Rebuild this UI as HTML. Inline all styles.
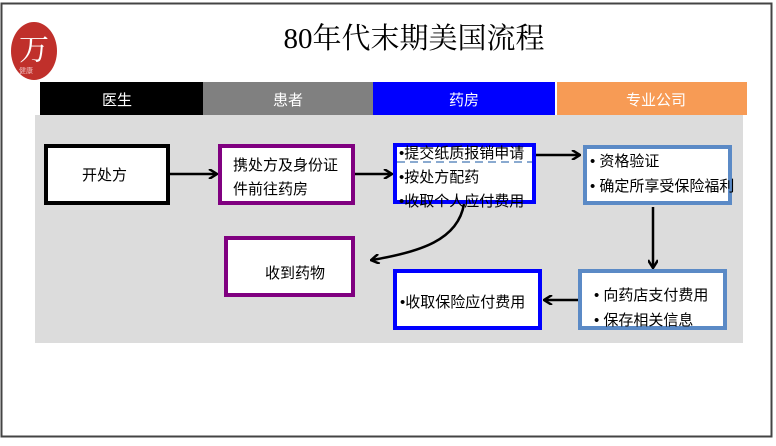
<!DOCTYPE html>
<html><head><meta charset="utf-8"><style>
html,body{margin:0;padding:0;background:#fff;}
body{width:776px;height:441px;overflow:hidden;}
svg text{font-family:"Liberation Sans","Noto Sans CJK SC",sans-serif;}
</style></head><body>
<svg width="776" height="441" viewBox="0 0 776 441" xmlns="http://www.w3.org/2000/svg">
<defs>
<marker id="a" markerWidth="10" markerHeight="10" refX="8" refY="5" orient="auto" markerUnits="userSpaceOnUse"><path d="M1,0 L9,5 L1,10" fill="none" stroke="#000" stroke-width="2.5"/></marker>
</defs>
<rect x="1.5" y="3.5" width="770" height="433" fill="#fff" stroke="#444" stroke-width="2"/>
<ellipse cx="34" cy="51" rx="23" ry="29" fill="#c0302b"/>
<text x="34" y="60" font-size="30" fill="#fff" text-anchor="middle" style="font-family:'Noto Serif CJK SC',serif">万</text>
<text x="19" y="73" font-size="7" fill="#f0c0c0">健康</text>
<text x="414" y="48" font-size="29" text-anchor="middle" style="font-family:'Liberation Serif','Noto Serif CJK SC',serif">80年代末期美国流程</text>
<rect x="35" y="115" width="708" height="228" fill="#dcdcdc"/>
<rect x="40" y="82" width="163" height="33" fill="#000"/>
<rect x="203" y="82" width="170" height="33" fill="#808080"/>
<rect x="373" y="82" width="182" height="33" fill="#0000ff"/>
<rect x="557" y="82" width="190" height="33" fill="#f79b55"/>
<g font-size="15" fill="#fff" text-anchor="middle">
<text x="117" y="105">医生</text><text x="288" y="105">患者</text><text x="464" y="105">药房</text><text x="656" y="105">专业公司</text>
</g>
<g fill="#fff" stroke-width="4">
<rect x="46" y="146" width="122" height="57" stroke="#000"/>
<rect x="220" y="146" width="133" height="57" stroke="#800080"/>
<rect x="395" y="145" width="139" height="57" stroke="#0000ff"/>
<rect x="585" y="147" width="145" height="56" stroke="#5b8ac6"/>
<rect x="226" y="238" width="127" height="57" stroke="#800080"/>
<rect x="395" y="271" width="145" height="57" stroke="#0000ff"/>
<rect x="580" y="271" width="145" height="57" stroke="#5b8ac6"/>
</g>
<line x1="397" y1="162" x2="532" y2="162" stroke="#8aaad0" stroke-width="2" stroke-dasharray="8,5"/>
<g font-size="15" fill="#000">
<text x="82" y="180">开处方</text>
<text x="233" y="170">携处方及身份证</text>
<text x="233" y="194">件前往药房</text>
<text x="399" y="158">•提交纸质报销申请</text>
<text x="399" y="182">•按处方配药</text>
<text x="399" y="206">•收取个人应付费用</text>
<text x="590" y="166">• 资格验证</text>
<text x="590" y="191">• 确定所享受保险福利</text>
<text x="265" y="278">收到药物</text>
<text x="400" y="307">•收取保险应付费用</text>
<text x="594" y="300">• 向药店支付费用</text>
<text x="594" y="325">• 保存相关信息</text>
</g>
<g stroke="#000" stroke-width="2.5" fill="none">
<line x1="170" y1="174" x2="216" y2="174" marker-end="url(#a)"/>
<line x1="355" y1="174" x2="391" y2="174" marker-end="url(#a)"/>
<line x1="536" y1="155" x2="579" y2="155" marker-end="url(#a)"/>
<line x1="653" y1="207" x2="653" y2="267" marker-end="url(#a)"/>
<line x1="578" y1="300" x2="545" y2="300" marker-end="url(#a)"/>
<path d="M464,204 C458,240 420,252 372,260" marker-end="url(#a)"/>
</g>
</svg>
</body></html>
